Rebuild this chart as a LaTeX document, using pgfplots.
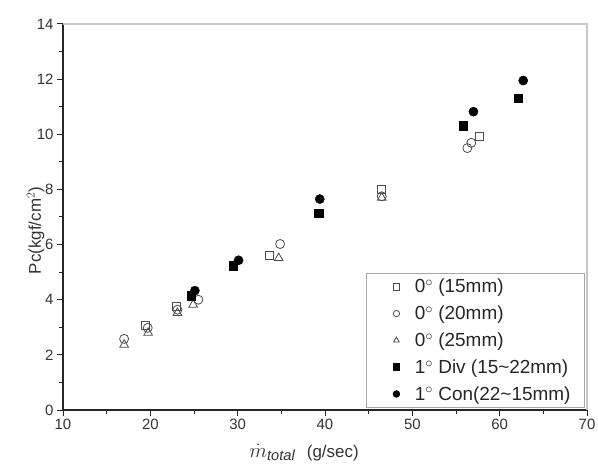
\documentclass[border=0pt]{standalone}
\usepackage{pgfplots}
\pgfplotsset{compat=1.18}
\usepackage{fontspec}
\setmainfont{Liberation Sans}

% legend image: a single mark, with extra room on its left
\pgfplotsset{
  padlegend/.style={legend image code/.code={%
    \path[draw=none, fill=none] (-9bp,0) (17bp,0);
    \draw[##1] plot[only marks] coordinates {(0.3cm,0cm)};}},
}

% chamber pressure against mass flow rate, five nozzle configurations
\begin{document}
\begin{tikzpicture}
\begin{axis}[
  scale only axis, width=524bp, height=386bp,
  xmin=10, xmax=70, ymin=0, ymax=14,
  xtick={10,20,...,70}, ytick={0,2,...,14},
  minor x tick num=1, minor y tick num=1,
  axis x line=bottom, axis y line=left,
  axis line style={-, line width=1.3bp, black!85},
  tick align=outside,
  major tick length=6bp, minor tick length=4bp,
  every tick/.style={line width=1bp, black!85},
  ticklabel style={font=\fontsize{15}{17}\selectfont, text=black!80},
  /pgf/number format/assume math mode=true,
  xlabel={\fontsize{21}{23}\selectfont$\dot{m}_{\mathit{total}}$\ \ \fontsize{17}{19}\selectfont(g/sec)},
  ylabel={Pc(kgf/cm$^2$)},
  every axis x label/.style={at={(axis description cs:0.46,-0.11)}, anchor=center,
    font=\fontsize{17}{19}\selectfont, text=black!80},
  every axis y label/.style={at={(axis description cs:-0.052,0.465)}, rotate=90, anchor=center,
    font=\fontsize{17}{19}\selectfont, text=black!80},
  legend cell align=left,
  legend image post style={mark size=3.2bp},
  legend style={
    at={(rel axis cs:0.996,0.005)}, anchor=south east,
    draw=black!35, line width=1bp,
    font=\fontsize{19}{21}\selectfont, text=black!85,
    row sep=7.6bp, inner xsep=12bp, inner ysep=4bp,
    /tikz/every odd column/.append style={column sep=8bp},
  },
  clip=false,
]
\addplot[only marks, padlegend, mark=square, mark size=4bp, draw=black!70, line width=0.8bp]
  coordinates {(19.47,3.06) (23.0,3.76) (33.6,5.60) (46.5,8.01) (57.65,9.93)};
\addlegendentry{0$^\circ$ (15mm)}
\addplot[only marks, padlegend, mark=o, mark size=4.5bp, draw=black!70, line width=0.8bp]
  coordinates {(17.0,2.58) (19.7,2.98) (23.1,3.64) (25.5,4.00) (34.86,6.02) (46.5,7.75) (56.3,9.50) (56.75,9.69)};
\addlegendentry{0$^\circ$ (20mm)}
\addplot[only marks, padlegend, mark=triangle, mark size=5bp, draw=black!70, line width=0.8bp]
  coordinates {(17.0,2.37) (19.75,2.80) (23.1,3.52) (24.9,3.82) (34.7,5.51) (46.5,7.70)};
\addlegendentry{0$^\circ$ (25mm)}
\addplot[only marks, padlegend, mark=square*, mark size=4.2bp, black]
  coordinates {(24.7,4.15) (29.5,5.24) (39.3,7.14) (55.8,10.31) (62.1,11.31)};
\addlegendentry{1$^\circ$ Div (15\textasciitilde 22mm)}
\addplot[only marks, padlegend, mark=*, mark size=4.6bp, black]
  coordinates {(25.1,4.33) (30.1,5.43) (39.4,7.65) (57.0,10.82) (62.7,11.95)};
\addlegendentry{1$^\circ$ Con(22\textasciitilde 15mm)}
% light frame on the top and right sides
\draw[black!22, line width=1.3bp] (rel axis cs:0,1) -- (rel axis cs:1,1) -- (rel axis cs:1,0);
\end{axis}
\pgfresetboundingbox
\path ([shift={(-63bp,-60bp)}]current axis.south west) rectangle ([shift={(11bp,24bp)}]current axis.north east);
\end{tikzpicture}
\end{document}
